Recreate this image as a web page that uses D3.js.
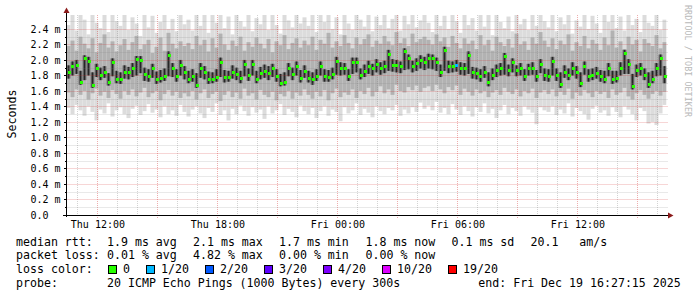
<!DOCTYPE html>
<html>
<head>
<meta charset="utf-8">
<script src="https://d3js.org/d3.v7.min.js"></script>
<style>
    body {margin: 0; background: #fff;}
    svg text {font-family: "DejaVu Sans Mono", monospace; fill: #000;}
    .axis text {font-size: 10px; white-space: pre;}
    .legend text {font-size: 11.6px; white-space: pre;}
</style>
</head>
<body>
<svg id="chart" width="697" height="297"></svg>

<script>

    // one value per 12 minute step, in ms (Thu 10:27 .. Fri 16:27)
    let median = [
        1.85,1.92,1.93,1.72,2.02,1.99,1.68,1.89,1.81,1.85,1.72,1.97,1.75,1.75,1.85,1.84,1.90,2.01,2.00,1.82,1.79,1.89,1.75,1.77,1.79,2.07,1.89,1.79,1.94,1.84,
        1.76,1.79,1.68,1.90,1.84,1.75,1.75,1.78,1.98,1.78,1.78,1.85,1.82,1.77,1.95,1.80,1.95,1.76,1.83,1.86,1.83,1.89,1.79,1.70,1.72,1.90,1.82,1.92,1.77,1.86,
        1.77,1.75,1.79,1.92,1.79,1.78,1.82,1.99,1.90,1.90,1.79,1.97,1.98,1.81,1.86,1.92,1.89,1.95,1.90,1.92,2.08,1.94,1.94,1.92,2.11,2.02,1.92,1.96,2.00,1.98,
        2.03,2.02,1.97,1.85,2.13,1.92,1.92,1.94,1.90,1.89,2.07,1.84,1.83,1.79,1.85,1.72,1.81,1.87,1.89,2.05,1.87,1.97,1.87,1.89,1.79,1.89,1.90,1.79,1.95,1.80,
        1.79,1.99,1.80,1.69,1.85,1.81,1.90,1.84,1.70,1.92,1.79,1.81,1.83,1.79,1.76,1.89,1.76,1.77,1.90,2.09,1.95,1.66,1.87,1.89,1.81,1.69,1.76,1.89,2.02,1.79
    ];

    let pingMin = [
        1.38,1.30,1.42,1.35,1.28,1.40,1.33,1.22,1.36,1.31,1.44,1.27,1.35,1.39,1.30,1.25,1.37,1.41,1.29,1.34,1.43,1.32,1.36,1.26,1.40,1.30,1.35,1.28,1.42,1.33,
        1.27,1.36,1.40,1.31,1.25,1.38,1.33,1.44,1.29,1.35,1.22,1.37,1.30,1.41,1.34,1.28,1.39,1.32,1.36,1.24,1.40,1.31,1.35,1.43,1.29,1.37,1.33,1.26,1.41,1.34,
        1.30,1.38,1.25,1.34,1.40,1.28,1.36,1.33,1.21,1.39,1.31,1.35,1.44,1.29,1.37,1.32,1.26,1.40,1.34,1.30,1.38,1.35,1.42,1.28,1.36,1.31,1.39,1.33,1.45,1.37,
        1.41,1.35,1.46,1.32,1.38,1.30,1.43,1.36,1.29,1.40,1.34,1.27,1.39,1.33,1.44,1.31,1.37,1.25,1.35,1.42,1.30,1.38,1.34,1.28,1.40,1.36,1.32,1.17,1.39,1.35,
        1.33,1.40,1.29,1.36,1.31,1.44,1.27,1.38,1.34,1.30,1.23,1.37,1.41,1.32,1.35,1.28,1.39,1.33,1.26,1.40,1.36,1.30,1.22,1.38,1.34,1.18,1.20,1.16,1.31,1.42
    ];

    let pingMax = [
        2.45,2.60,2.38,2.70,2.52,2.33,2.65,2.48,2.41,2.58,2.36,2.62,2.50,2.44,2.68,2.39,2.55,2.47,2.31,2.63,2.42,2.57,2.35,2.49,2.66,2.40,2.53,2.37,2.61,2.46,
        2.52,2.38,2.67,2.44,2.59,2.35,2.62,2.48,2.70,2.41,2.56,2.33,2.64,2.50,2.43,2.60,2.37,2.54,2.46,2.68,2.39,2.58,2.45,2.34,2.63,2.51,2.42,2.66,2.47,2.55,
        2.44,2.62,2.36,2.58,2.49,2.70,2.40,2.55,2.33,2.65,2.47,2.39,2.60,2.52,2.43,2.68,2.37,2.56,2.45,2.61,2.41,2.53,2.64,2.38,2.57,2.46,2.69,2.42,2.51,2.59,
        2.48,2.36,2.63,2.44,2.57,2.40,2.66,2.50,2.35,2.60,2.45,2.54,2.38,2.67,2.43,2.58,2.32,2.62,2.49,2.41,2.56,2.37,2.65,2.46,2.53,2.39,2.61,2.44,2.70,2.50,
        2.42,2.59,2.37,2.55,2.46,2.64,2.34,2.51,2.43,2.68,2.40,2.57,2.47,2.35,2.62,2.49,2.72,2.41,2.56,2.38,2.66,2.45,2.53,2.36,2.60,2.48,2.44,2.63,2.39,2.52
    ];

    let p10 = [
        1.58,1.52,1.62,1.55,1.60,1.49,1.57,1.63,1.54,1.59,1.51,1.61,1.56,1.50,1.60,1.55,1.62,1.53,1.58,1.64,1.52,1.57,1.60,1.48,1.56,1.61,1.54,1.59,1.51,1.57,
        1.53,1.60,1.49,1.57,1.62,1.51,1.56,1.59,1.47,1.55,1.60,1.52,1.58,1.50,1.63,1.54,1.57,1.49,1.61,1.55,1.52,1.59,1.48,1.56,1.53,1.60,1.50,1.58,1.54,1.62,
        1.55,1.50,1.59,1.53,1.61,1.48,1.57,1.63,1.52,1.58,1.55,1.62,1.51,1.60,1.56,1.64,1.53,1.59,1.66,1.57,1.62,1.55,1.68,1.60,1.58,1.65,1.61,1.67,1.59,1.64,
        1.66,1.60,1.68,1.62,1.57,1.65,1.61,1.67,1.55,1.63,1.59,1.54,1.62,1.57,1.60,1.52,1.58,1.61,1.55,1.64,1.59,1.56,1.62,1.53,1.60,1.57,1.63,1.51,1.58,1.61,
        1.56,1.62,1.53,1.59,1.55,1.63,1.50,1.58,1.54,1.61,1.57,1.52,1.60,1.56,1.59,1.51,1.62,1.55,1.58,1.64,1.53,1.49,1.57,1.61,1.55,1.50,1.56,1.60,1.54,1.59
    ];

    let p90 = [
        2.18,2.25,2.12,2.30,2.21,2.15,2.28,2.10,2.22,2.33,2.16,2.24,2.11,2.19,2.27,2.13,2.23,2.31,2.14,2.20,2.26,2.09,2.17,2.29,2.12,2.35,2.21,2.15,2.24,2.18,
        2.22,2.14,2.31,2.19,2.26,2.11,2.28,2.16,2.34,2.20,2.13,2.25,2.18,2.30,2.12,2.23,2.17,2.29,2.21,2.15,2.27,2.10,2.24,2.19,2.32,2.14,2.22,2.28,2.16,2.25,
        2.19,2.30,2.13,2.26,2.21,2.35,2.16,2.24,2.18,2.32,2.22,2.15,2.29,2.20,2.27,2.33,2.17,2.25,2.21,2.31,2.24,2.19,2.36,2.22,2.28,2.18,2.34,2.23,2.27,2.30,
        2.26,2.20,2.33,2.24,2.29,2.17,2.31,2.22,2.15,2.28,2.21,2.25,2.14,2.32,2.19,2.26,2.12,2.30,2.23,2.18,2.27,2.16,2.34,2.20,2.24,2.13,2.29,2.21,2.36,2.25,
        2.17,2.28,2.14,2.25,2.20,2.33,2.12,2.23,2.18,2.31,2.15,2.26,2.21,2.13,2.29,2.19,2.38,2.16,2.24,2.14,2.30,2.20,2.26,2.11,2.27,2.22,2.18,2.32,2.15,2.23
    ];

    let p25 = [
        1.76,1.80,1.82,1.68,1.74,1.80,1.64,1.78,1.74,1.77,1.67,1.79,1.70,1.69,1.76,1.75,1.78,1.80,1.83,1.73,1.72,1.77,1.69,1.71,1.73,1.79,1.78,1.72,1.80,1.75,
        1.70,1.72,1.64,1.77,1.75,1.69,1.70,1.72,1.78,1.71,1.72,1.76,1.74,1.70,1.79,1.73,1.80,1.70,1.75,1.77,1.74,1.78,1.72,1.66,1.67,1.79,1.74,1.80,1.71,1.77,
        1.71,1.68,1.73,1.80,1.72,1.72,1.75,1.81,1.80,1.81,1.73,1.82,1.84,1.75,1.78,1.82,1.80,1.84,1.81,1.83,1.86,1.85,1.84,1.83,1.87,1.88,1.84,1.86,1.89,1.87,
        1.89,1.88,1.86,1.78,1.86,1.83,1.84,1.85,1.81,1.80,1.82,1.76,1.75,1.72,1.77,1.66,1.74,1.78,1.80,1.81,1.79,1.84,1.79,1.80,1.73,1.80,1.81,1.72,1.83,1.73,
        1.72,1.80,1.73,1.64,1.77,1.74,1.80,1.76,1.65,1.81,1.72,1.74,1.76,1.72,1.70,1.79,1.69,1.71,1.80,1.82,1.82,1.62,1.78,1.80,1.74,1.64,1.70,1.79,1.80,1.70
    ];

    let p75 = [
        1.93,1.98,2.00,1.86,2.06,2.04,1.84,1.95,1.90,1.92,1.83,2.02,1.86,1.84,1.93,1.91,1.96,2.05,2.05,1.90,1.88,1.95,1.85,1.87,1.89,2.11,1.96,1.88,2.00,1.92,
        1.86,1.88,1.83,1.96,1.92,1.85,1.84,1.88,2.03,1.87,1.86,1.93,1.90,1.86,2.00,1.89,2.00,1.86,1.91,1.94,1.92,1.95,1.88,1.82,1.84,1.96,1.90,1.98,1.87,1.93,
        1.86,1.84,1.88,1.98,1.88,1.87,1.90,2.04,1.97,1.96,1.88,2.03,2.03,1.89,1.94,1.99,1.95,2.01,1.97,1.99,2.13,2.01,2.00,1.98,2.15,2.07,1.99,2.02,2.06,2.04,
        2.08,2.07,2.03,1.94,2.17,1.99,1.98,2.00,1.97,1.96,2.11,1.91,1.90,1.88,1.92,1.84,1.89,1.94,1.96,2.09,1.94,2.02,1.93,1.96,1.88,1.95,1.97,1.87,2.01,1.89,
        1.88,2.04,1.89,1.84,1.93,1.89,1.97,1.92,1.84,1.98,1.88,1.89,1.91,1.87,1.86,1.96,1.86,1.86,1.97,2.13,2.01,1.82,1.94,1.96,1.89,1.84,1.86,1.96,2.07,1.92
    ];

    // steps where pings were lost (index into the arrays above) and how many of 20
    let lossSteps = [97];
    let lossCounts = [1];

    let lossLabels = ["0", "1/20", "2/20", "3/20", "4/20", "10/20", "19/20"];
    let lossColors = ["#26ff00", "#00b8ff", "#0059ff", "#5e00ff", "#7e00ff", "#dd00ff", "#ff0000"];

    let yTickValues = [0, 0.2, 0.4, 0.6, 0.8, 1.0, 1.2, 1.4, 1.6, 1.8, 2.0, 2.2, 2.4];
    let yTickLabels = ["0.0  ", "0.2 m", "0.4 m", "0.6 m", "0.8 m", "1.0 m", "1.2 m", "1.4 m", "1.6 m", "1.8 m", "2.0 m", "2.2 m", "2.4 m"];

    let legendRtt = ["median rtt:", "1.9 ms avg", "2.1 ms max", "1.7 ms min", "1.8 ms now", "0.1 ms sd", "20.1   am/s"];
    let legendLoss = ["packet loss:", "0.01 % avg", "4.82 % max", "0.00 % min", "0.00 % now"];
    let probeText = "20 ICMP Echo Pings (1000 Bytes) every 300s";
    let endText = "end: Fri Dec 19 16:27:15 2025";

    let startTime = new Date(Date.UTC(2025, 11, 18, 10, 27, 15));
    let endTime = new Date(Date.UTC(2025, 11, 19, 16, 27, 15));
    let stepMs = 12 * 60 * 1000;

    let margin = {left: 66.5, right: 666.5, top: 15, bottom: 215};

    let x = d3.scaleUtc()
        .domain([startTime, endTime])
        .range([margin.left, margin.right]);

    let y = d3.scaleLinear()
        .domain([0, 2.58])
        .range([margin.bottom, margin.top]);

    let svg = d3.select("#chart");

    svg.append("rect").attr("width", 697).attr("height", 297).attr("fill", "#fff");

    svg.append("clipPath").attr("id", "plot-clip")
        .append("rect")
        .attr("x", margin.left).attr("y", margin.top)
        .attr("width", margin.right - margin.left)
        .attr("height", margin.bottom - margin.top);

    let steps = median.map(function(m, i) {
        let t0 = new Date(startTime.getTime() + i * stepMs);
        let t1 = new Date(startTime.getTime() + (i + 1) * stepMs);
        let li = lossSteps.indexOf(i);
        return {
            t0: t0, t1: t1, median: m,
            min: pingMin[i], max: pingMax[i],
            p10: p10[i], p90: p90[i], p25: p25[i], p75: p75[i],
            loss: li < 0 ? 0 : lossCounts[li]
        };
    });

    // smoke: lighter for the outer pings, darker toward the middle ones
    let smoke = svg.append("g").attr("clip-path", "url(#plot-clip)");

    let layers = [
        {lo: "min", hi: "max", color: "#dcdcdc", inset: 0},
        {lo: "p10", hi: "p90", color: "#b2b2b2", inset: 0},
        {lo: "p25", hi: "p75", color: "#747474", inset: 0},
        {lo: "p25", hi: "p75", color: "#262626", inset: 1.2}
    ];

    layers.forEach(function(layer) {
        smoke.append("g").selectAll("rect")
            .data(steps)
            .enter().append("rect")
            .attr("x", function(d) { return x(d.t0) + layer.inset; })
            .attr("width", function(d) { return x(d.t1) - x(d.t0) - 2 * layer.inset; })
            .attr("y", function(d) { return y(d[layer.hi]); })
            .attr("height", function(d) { return y(d[layer.lo]) - y(d[layer.hi]); })
            .attr("fill", layer.color);
    });

    // grid
    let grid = svg.append("g").attr("stroke-dasharray", "1,1").attr("stroke-width", 1);

    let hours = d3.utcHour.range(d3.utcHour.ceil(startTime), endTime);
    let minorColor = "rgba(130,130,130,0.35)";
    let majorColor = "rgba(210,40,40,0.38)";

    grid.selectAll(".vgrid")
        .data(hours)
        .enter().append("line")
        .attr("x1", function(d) { return Math.round(x(d)) + 0.5; })
        .attr("x2", function(d) { return Math.round(x(d)) + 0.5; })
        .attr("y1", margin.top)
        .attr("y2", function(d) { return d.getUTCHours() % 3 === 0 ? margin.bottom + 3 : margin.bottom + 2; })
        .attr("stroke", function(d) { return d.getUTCHours() % 3 === 0 ? majorColor : minorColor; });

    let yMinor = d3.range(1, 26).map(function(k) { return k / 10; });

    grid.selectAll(".hgrid")
        .data(yMinor)
        .enter().append("line")
        .attr("x1", margin.left)
        .attr("x2", margin.right + 1)
        .attr("y1", function(d) { return Math.round(y(d)) + 0.5; })
        .attr("y2", function(d) { return Math.round(y(d)) + 0.5; })
        .attr("stroke", function(d, i) { return (i + 1) % 2 === 0 ? majorColor : minorColor; });

    // median, coloured by packet loss
    svg.append("g").selectAll("rect")
        .data(steps)
        .enter().append("rect")
        .attr("x", function(d) { return Math.round(x(d.t0)) + 1; })
        .attr("width", 3)
        .attr("y", function(d) { return Math.round(y(d.median)) - 1; })
        .attr("height", 3)
        .attr("fill", function(d) { return lossColors[d.loss]; })
        .attr("shape-rendering", "crispEdges");

    // axes
    let yAxis = d3.axisLeft(y)
        .tickValues(yTickValues)
        .tickFormat(function(d, i) { return yTickLabels[i]; })
        .tickSize(3)
        .tickPadding(3);

    let yAxisMinor = d3.axisLeft(y)
        .tickValues(yMinor)
        .tickFormat("")
        .tickSize(2);

    svg.append("g").attr("class", "axis")
        .attr("transform", "translate(" + margin.left + ",0)")
        .call(yAxisMinor)
        .call(function(g) { g.select(".domain").remove(); });

    svg.append("g").attr("class", "axis")
        .attr("transform", "translate(" + margin.left + ",0)")
        .call(yAxis)
        .call(function(g) { g.select(".domain").remove(); });

    let xAxis = d3.axisBottom(x)
        .ticks(d3.utcHour.every(6))
        .tickFormat(d3.utcFormat("%a %H:%M"))
        .tickSize(0)
        .tickPadding(6);

    svg.append("g").attr("class", "axis")
        .attr("transform", "translate(0," + margin.bottom + ")")
        .call(xAxis)
        .call(function(g) { g.select(".domain").remove(); });

    svg.selectAll(".axis .tick line").attr("stroke", "#000").attr("shape-rendering", "crispEdges");

    // axis lines and arrows
    svg.append("line")
        .attr("x1", 63).attr("x2", 668)
        .attr("y1", margin.bottom + 0.5).attr("y2", margin.bottom + 0.5)
        .attr("stroke", "#000");
    svg.append("line")
        .attr("x1", margin.left).attr("x2", margin.left)
        .attr("y1", margin.bottom + 2).attr("y2", 12)
        .attr("stroke", "#000");
    svg.append("path")
        .attr("d", "M668,212.5L673.5,215.5L668,218.5Z")
        .attr("fill", "#8b1a1a");
    svg.append("path")
        .attr("d", "M63.5,13L66.5,7.5L69.5,13Z")
        .attr("fill", "#8b1a1a");

    // titles
    svg.append("text")
        .attr("transform", "translate(15.5,114) rotate(-90)")
        .attr("text-anchor", "middle")
        .style("font-size", "11.6px")
        .text("Seconds");

    svg.append("text")
        .attr("transform", "translate(684.5,5) rotate(90)")
        .style("font-size", "8.3px")
        .style("letter-spacing", "0.1px")
        .style("fill", "#b8b8b8")
        .text("RRDTOOL / TOBI OETIKER");

    // legend
    let legend = svg.append("g").attr("class", "legend");
    let colX = [16, 107, 193, 279, 365.5, 451.5, 530.5];
    let rowY = [245.5, 259, 273, 286.5];

    legend.selectAll(".rtt")
        .data(legendRtt)
        .enter().append("text")
        .attr("x", function(d, i) { return colX[i]; })
        .attr("y", rowY[0])
        .text(function(d) { return d; });

    legend.selectAll(".loss")
        .data(legendLoss)
        .enter().append("text")
        .attr("x", function(d, i) { return colX[i]; })
        .attr("y", rowY[1])
        .text(function(d) { return d; });

    legend.append("text").attr("x", 16).attr("y", rowY[2]).text("loss color:");

    let boxX = 108;
    lossLabels.forEach(function(label, i) {
        legend.append("rect")
            .attr("x", boxX + 0.5).attr("y", 265.5)
            .attr("width", 8).attr("height", 8)
            .attr("fill", lossColors[i])
            .attr("stroke", "#000");
        legend.append("text")
            .attr("x", boxX + 15).attr("y", rowY[2])
            .text(label);
        boxX += 15 + label.length * 7 + 16;
    });

    legend.append("text").attr("x", 16).attr("y", rowY[3]).text("probe:");
    legend.append("text").attr("x", 107).attr("y", rowY[3]).text(probeText);
    legend.append("text").attr("x", 478.3).attr("y", rowY[3]).text(endText);

</script>
</body>
</html>
